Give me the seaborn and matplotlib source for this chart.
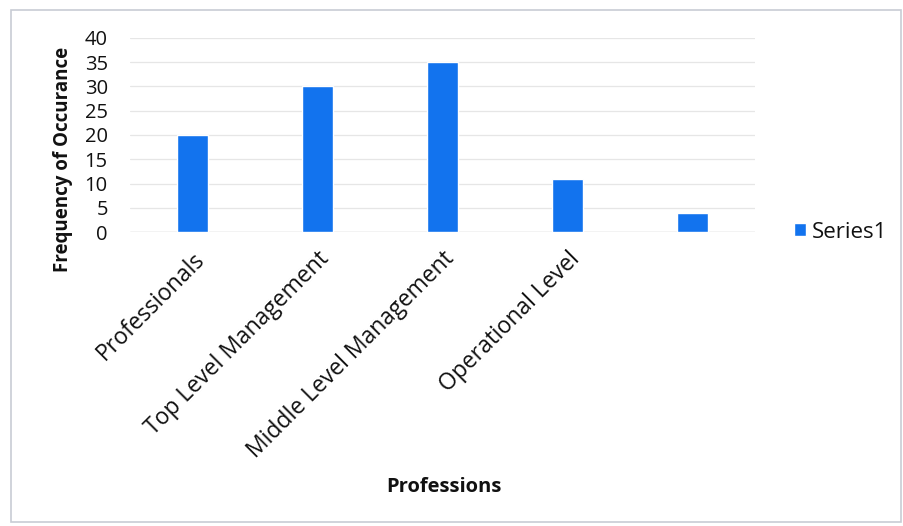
import matplotlib
matplotlib.use("Agg")
import matplotlib.pyplot as plt
from matplotlib.patches import Rectangle
import seaborn as sns
import pandas as pd

# Survey respondents by profession
professions = ["Professionals", "Top Level Management", "Middle Level Management",
               "Operational Level", ""]
frequency = [20, 30, 35, 11, 4]
y_ticks = [0, 5, 10, 15, 20, 25, 30, 35, 40]
series_name = "Series1"

sns.set_theme(style="white")
plt.rcParams["font.family"] = ["Open Sans", "DejaVu Sans"]

df = pd.DataFrame({"Profession": professions, "Frequency": frequency})

fig = plt.figure(figsize=(9.04, 5.26), dpi=100)
fig.patch.set_facecolor("white")
ax = fig.add_axes([0.1438, 0.5589, 0.6914, 0.3689])

sns.barplot(data=df, x="Profession", y="Frequency", order=professions,
            color="#1273EE", saturation=1, width=0.25, label=series_name, ax=ax,
            zorder=3)

ax.set_ylim(0, 40)
ax.set_yticks(y_ticks)
ax.set_xlim(-0.5, len(professions) - 0.5)
ax.grid(axis="y", color="#e6e6e6", linewidth=0.9, zorder=0)
for s in ax.spines.values():
    s.set_visible(False)
ax.axhline(0, color="#d4d4d4", linewidth=1.0, zorder=2)

ax.tick_params(axis="y", labelsize=14.5, length=0, pad=16, labelcolor="#111111")
ax.tick_params(axis="x", labelsize=16.5, length=0, pad=11, labelcolor="#111111")
plt.setp(ax.get_xticklabels(), rotation=45, ha="right", va="top",
         rotation_mode="anchor")

ax.set_ylabel("Frequency of Occurance", fontsize=13.5, fontweight="bold",
              color="#111111")
ax.yaxis.set_label_coords(-0.0912, 0.376)
ax.set_xlabel("")
fig.text(0.491, 0.0745, "Professions", fontsize=14.5, fontweight="bold",
         color="#111111", ha="center", va="center")

ax.legend(loc="center left", bbox_to_anchor=(1.031, 0.0), frameon=False,
          fontsize=16, handlelength=0.5, handleheight=0.5, handletextpad=0.3,
          labelcolor="#111111")

# outer chart frame
fig.patches.append(Rectangle((11 / 904, 4 / 526), 890 / 904, 512 / 526,
                             transform=fig.transFigure, fill=False,
                             edgecolor="#c8ccd4", linewidth=1.2))

fig.savefig("out.png", dpi=100, facecolor="white")
